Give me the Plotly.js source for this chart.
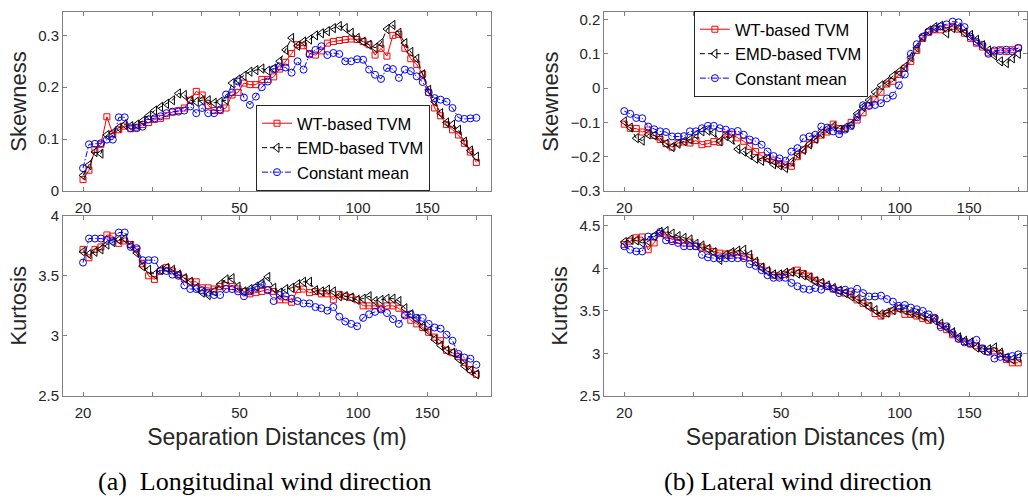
<!DOCTYPE html>
<html><head><meta charset="utf-8">
<script src="https://cdn.plot.ly/plotly-3.0.1.min.js"></script>
<style>html,body{margin:0;padding:0;background:#fff}#chart{width:1028px;height:500px}</style>
</head><body><div id="chart"></div>
<script>
// Separation distances (m)
const distances = [20.00,20.71,21.45,22.21,23.00,23.81,24.66,25.53,26.44,27.38,
  28.35,29.36,30.40,31.48,32.60,33.75,34.95,36.19,37.48,38.81,
  40.19,41.61,43.09,44.62,46.20,47.84,49.54,51.30,53.12,55.01,
  56.96,58.98,61.07,63.24,65.49,67.81,70.22,72.71,75.29,77.97,
  80.73,83.60,86.57,89.64,92.82,96.12,99.53,103.06,106.72,110.51,
  114.43,118.49,122.70,127.05,131.56,136.23,141.07,146.07,151.26,156.63,
  162.19,167.95,173.91,180.08,186.48,193.10,200.00];

const seriesNames = ['WT-based TVM','EMD-based TVM','Constant mean'];

// (a) Longitudinal - Skewness
const skewLonWT = [0.022,0.040,0.080,0.090,0.143,0.110,0.118,0.125,0.120,0.123,
  0.128,0.132,0.138,0.140,0.145,0.152,0.155,0.160,0.175,0.192,
  0.185,0.165,0.155,0.155,0.160,0.185,0.190,0.208,0.205,0.205,
  0.215,0.215,0.220,0.235,0.248,0.265,0.282,0.280,0.265,0.262,
  0.270,0.285,0.288,0.290,0.292,0.293,0.292,0.288,0.282,0.262,
  0.275,0.260,0.300,0.302,0.275,0.255,0.244,0.225,0.190,0.160,
  0.145,0.128,0.118,0.108,0.092,0.075,0.055];
const skewLonEMD = [0.030,0.050,0.075,0.072,0.108,0.112,0.122,0.128,0.125,0.128,
  0.135,0.145,0.155,0.162,0.168,0.175,0.188,0.185,0.175,0.172,
  0.175,0.175,0.170,0.172,0.175,0.208,0.215,0.222,0.230,0.233,
  0.236,0.232,0.236,0.250,0.272,0.295,0.280,0.288,0.292,0.300,
  0.304,0.308,0.314,0.318,0.314,0.305,0.295,0.288,0.282,0.276,
  0.285,0.312,0.320,0.305,0.285,0.268,0.255,0.225,0.195,0.172,
  0.150,0.132,0.128,0.118,0.095,0.078,0.066];
const skewLonCM = [0.044,0.090,0.091,0.092,0.099,0.099,0.142,0.142,0.121,0.121,
  0.124,0.138,0.140,0.144,0.150,0.153,0.153,0.155,0.163,0.150,
  0.160,0.150,0.150,0.157,0.186,0.190,0.211,0.180,0.166,0.182,
  0.200,0.211,0.235,0.240,0.238,0.228,0.250,0.234,0.263,0.272,
  0.279,0.262,0.266,0.264,0.250,0.250,0.254,0.253,0.234,0.224,
  0.216,0.237,0.235,0.218,0.234,0.231,0.221,0.210,0.190,0.179,
  0.176,0.172,0.160,0.141,0.139,0.140,0.141];

// (a) Longitudinal - Kurtosis
const kurtLonWT = [3.72,3.65,3.72,3.74,3.84,3.83,3.77,3.79,3.76,3.72,
  3.60,3.50,3.47,3.54,3.57,3.54,3.51,3.48,3.45,3.45,
  3.40,3.40,3.39,3.41,3.42,3.41,3.39,3.37,3.35,3.36,
  3.37,3.385,3.37,3.30,3.30,3.28,3.385,3.39,3.36,3.37,
  3.35,3.35,3.30,3.345,3.33,3.32,3.30,3.25,3.25,3.25,
  3.23,3.25,3.25,3.23,3.18,3.13,3.10,3.07,3.03,2.99,
  2.96,2.88,2.86,2.83,2.78,2.72,2.68];
const kurtLonEMD = [3.70,3.68,3.70,3.72,3.76,3.78,3.80,3.81,3.75,3.69,
  3.58,3.55,3.51,3.55,3.565,3.55,3.51,3.48,3.45,3.40,
  3.36,3.34,3.37,3.43,3.47,3.48,3.41,3.37,3.39,3.41,
  3.44,3.49,3.40,3.36,3.39,3.40,3.43,3.45,3.45,3.38,
  3.37,3.385,3.37,3.33,3.33,3.32,3.30,3.31,3.33,3.29,
  3.30,3.31,3.31,3.29,3.23,3.18,3.14,3.08,3.04,2.97,
  2.92,2.88,2.86,2.81,2.75,2.71,2.68];
const kurtLonCM = [3.61,3.81,3.81,3.81,3.80,3.79,3.86,3.86,3.74,3.73,
  3.63,3.63,3.63,3.54,3.54,3.51,3.50,3.42,3.39,3.39,
  3.38,3.36,3.34,3.34,3.39,3.39,3.37,3.33,3.37,3.40,
  3.43,3.38,3.29,3.34,3.33,3.31,3.29,3.27,3.27,3.24,
  3.23,3.21,3.24,3.16,3.12,3.10,3.08,3.15,3.18,3.20,
  3.22,3.19,3.14,3.10,3.17,3.18,3.15,3.15,3.10,3.07,
  3.06,3.01,2.96,2.85,2.82,2.81,2.76];

// (b) Lateral - Skewness
const skewLatWT = [-0.105,-0.117,-0.118,-0.128,-0.122,-0.138,-0.150,-0.162,-0.172,-0.160,
  -0.157,-0.160,-0.153,-0.165,-0.162,-0.156,-0.158,-0.135,-0.134,-0.145,
  -0.155,-0.170,-0.185,-0.197,-0.205,-0.210,-0.220,-0.224,-0.228,-0.200,
  -0.180,-0.163,-0.150,-0.137,-0.128,-0.105,-0.118,-0.118,-0.100,-0.093,
  -0.072,-0.050,-0.034,-0.012,0.012,0.020,0.040,0.058,0.078,0.110,
  0.145,0.163,0.170,0.170,0.175,0.180,0.172,0.160,0.145,0.131,
  0.120,0.103,0.106,0.112,0.107,0.112,0.117];
const skewLatEMD = [-0.097,-0.115,-0.146,-0.153,-0.135,-0.138,-0.146,-0.162,-0.172,-0.162,
  -0.155,-0.150,-0.136,-0.126,-0.124,-0.130,-0.155,-0.140,-0.150,-0.178,
  -0.185,-0.195,-0.206,-0.212,-0.206,-0.222,-0.225,-0.233,-0.215,-0.192,
  -0.180,-0.164,-0.148,-0.132,-0.120,-0.112,-0.121,-0.115,-0.107,-0.075,
  -0.055,-0.035,-0.012,0.008,0.018,0.035,0.048,0.062,0.090,0.118,
  0.150,0.168,0.178,0.182,0.160,0.175,0.176,0.162,0.155,0.141,
  0.125,0.110,0.095,0.078,0.073,0.087,0.100];
const skewLatCM = [-0.067,-0.075,-0.087,-0.088,-0.112,-0.120,-0.126,-0.128,-0.141,-0.141,
  -0.140,-0.126,-0.126,-0.117,-0.110,-0.110,-0.117,-0.121,-0.128,-0.125,
  -0.136,-0.150,-0.155,-0.165,-0.185,-0.198,-0.205,-0.212,-0.185,-0.175,
  -0.146,-0.141,-0.136,-0.112,-0.115,-0.126,-0.134,-0.121,-0.110,-0.085,
  -0.050,-0.052,-0.049,-0.044,-0.030,-0.022,0.008,0.040,0.100,0.128,
  0.150,0.165,0.173,0.180,0.186,0.194,0.192,0.178,0.150,0.135,
  0.126,0.100,0.110,0.108,0.112,0.107,0.117];

// (b) Lateral - Kurtosis
const kurtLatWT = [4.28,4.32,4.36,4.37,4.22,4.30,4.41,4.39,4.34,4.33,
  4.30,4.31,4.26,4.25,4.23,4.20,4.18,4.17,4.18,4.16,
  4.14,4.13,4.07,4.02,3.97,3.92,3.91,3.93,3.95,3.98,
  3.94,3.91,3.86,3.83,3.79,3.76,3.74,3.71,3.69,3.63,
  3.59,3.56,3.47,3.44,3.47,3.50,3.53,3.46,3.46,3.44,
  3.41,3.39,3.41,3.33,3.28,3.22,3.18,3.14,3.11,3.09,
  3.06,3.02,3.03,3.00,2.93,2.89,2.89];
const kurtLatEMD = [4.31,4.34,4.33,4.30,4.32,4.38,4.43,4.44,4.41,4.38,
  4.36,4.34,4.29,4.27,4.23,4.19,4.10,4.16,4.19,4.21,
  4.22,4.16,4.08,4.01,3.97,3.93,3.93,3.95,3.96,3.94,
  3.92,3.89,3.85,3.83,3.80,3.77,3.74,3.71,3.67,3.64,
  3.60,3.55,3.51,3.46,3.48,3.51,3.53,3.51,3.48,3.46,
  3.44,3.41,3.39,3.35,3.30,3.25,3.19,3.15,3.13,3.07,
  3.04,3.05,3.07,3.01,2.95,2.93,2.95];
const kurtLatCM = [4.26,4.22,4.20,4.20,4.375,4.375,4.43,4.33,4.32,4.30,
  4.26,4.26,4.26,4.16,4.13,4.12,4.12,4.12,4.12,4.12,
  4.12,4.05,4.03,3.98,3.92,3.89,3.89,3.89,3.83,3.79,
  3.76,3.75,3.77,3.75,3.79,3.76,3.71,3.75,3.73,3.76,
  3.71,3.67,3.67,3.68,3.64,3.61,3.56,3.57,3.54,3.52,
  3.50,3.46,3.42,3.31,3.32,3.24,3.17,3.13,3.12,3.16,
  3.06,3.02,2.94,2.96,2.95,2.97,2.99];

const xTickVals = [20,30,40,50,60,70,80,90,100,150,200];
const xTickText = ['20','','','50','','','','','100','150',''];

const styles = [
  {color:'#ff0000', dash:'solid', symbol:'square-open', size:6},
  {color:'#000000', dash:'5px,3px', symbol:'triangle-left-open', size:8},
  {color:'#0000ff', dash:'6px,2px,1.5px,2px', symbol:'circle-open', size:7}
];

function makeTraces(ys, xa, ya, legendId){
  return ys.map((y,i)=>{
    const t = {
      type:'scatter', mode:'lines+markers', x:distances, y:y, name:seriesNames[i],
      xaxis:xa, yaxis:ya,
      line:{color:styles[i].color, width:1, dash:styles[i].dash},
      marker:{symbol:styles[i].symbol, size:styles[i].size, color:styles[i].color, line:{color:styles[i].color, width:1}},
      showlegend: !!legendId, hoverinfo:'x+y'
    };
    if(legendId) t.legend = legendId;
    return t;
  });
}

const data = [].concat(
  makeTraces([skewLonWT, skewLonEMD, skewLonCM], 'x', 'y', 'legend'),
  makeTraces([kurtLonWT, kurtLonEMD, kurtLonCM], 'x2', 'y2', null),
  makeTraces([skewLatWT, skewLatEMD, skewLatCM], 'x3', 'y3', 'legend2'),
  makeTraces([kurtLatWT, kurtLatEMD, kurtLatCM], 'x4', 'y4', null)
);

const SANS = 'Liberation Sans, Arial, sans-serif';
const common = {
  showline:true, linecolor:'#808080', linewidth:1, mirror:'ticks',
  ticks:'inside', ticklen:4, tickcolor:'#808080', showgrid:false, zeroline:false,
  tickfont:{family:SANS, size:15, color:'#262626'}, automargin:false
};
const L = [0.0613, 0.4776], R = [0.5878, 0.999];
const TOP = [0.618, 0.976], BOT = [0.208, 0.5686];
function xax(dom, anchor, rng, title){
  const a = Object.assign({}, common, {domain:dom, anchor:anchor, type:'log', range:rng,
    tickmode:'array', tickvals:xTickVals, ticktext:xTickText, ticklabelstandoff:3});
  if(title) a.title = {text:title, font:{family:SANS, size:23, color:'#262626'}, standoff:8};
  return a;
}
function yax(dom, anchor, rng, tv, title){
  return Object.assign({}, common, {domain:dom, anchor:anchor, range:rng, tickmode:'array', tickvals:tv,
    title:{text:title, font:{family:SANS, size:22, color:'#262626'}, standoff:5}});
}
const legendBase = {bgcolor:'#ffffff', bordercolor:'#262626', borderwidth:1,
  font:{family:SANS, size:16.5, color:'#000'}, tracegroupgap:0, itemwidth:30};

const layout = {
  width:1028, height:500, margin:{l:0,r:0,t:0,b:0}, paper_bgcolor:'#fff', plot_bgcolor:'#fff',
  xaxis: xax(L,'y',[1.2502,2.3381]),
  yaxis: yax(TOP,'x',[0,0.345],[0,0.1,0.2,0.3],'Skewness'),
  xaxis2: xax(L,'y2',[1.2502,2.3381],'Separation Distances (m)'),
  yaxis2: yax(BOT,'x2',[2.5,4.0],[2.5,3,3.5,4],'Kurtosis'),
  xaxis3: xax(R,'y3',[1.2502,2.3230]),
  yaxis3: yax(TOP,'x3',[-0.3,0.222],[-0.3,-0.2,-0.1,0,0.1,0.2],'Skewness'),
  xaxis4: xax(R,'y4',[1.2502,2.3230],'Separation Distances (m)'),
  yaxis4: yax(BOT,'x4',[2.5,4.62],[2.5,3,3.5,4,4.5],'Kurtosis'),
  legend: Object.assign({}, legendBase, {x:0.249, y:0.618, xanchor:'left', yanchor:'bottom'}),
  legend2: Object.assign({}, legendBase, {x:0.675, y:0.978, xanchor:'left', yanchor:'top'}),
  annotations:[
    {text:'(a)  Longitudinal wind direction', xref:'paper', yref:'paper', x:0.2578, y:0.038, xanchor:'center', yanchor:'middle', showarrow:false,
     font:{family:'Liberation Serif, Times New Roman, serif', size:26, color:'#000'}},
    {text:'(b) Lateral wind direction', xref:'paper', yref:'paper', x:0.7763, y:0.038, xanchor:'center', yanchor:'middle', showarrow:false,
     font:{family:'Liberation Serif, Times New Roman, serif', size:26, color:'#000'}}
  ]
};

Plotly.newPlot('chart', data, layout, {staticPlot:true, displayModeBar:false});
</script>
</body></html>
